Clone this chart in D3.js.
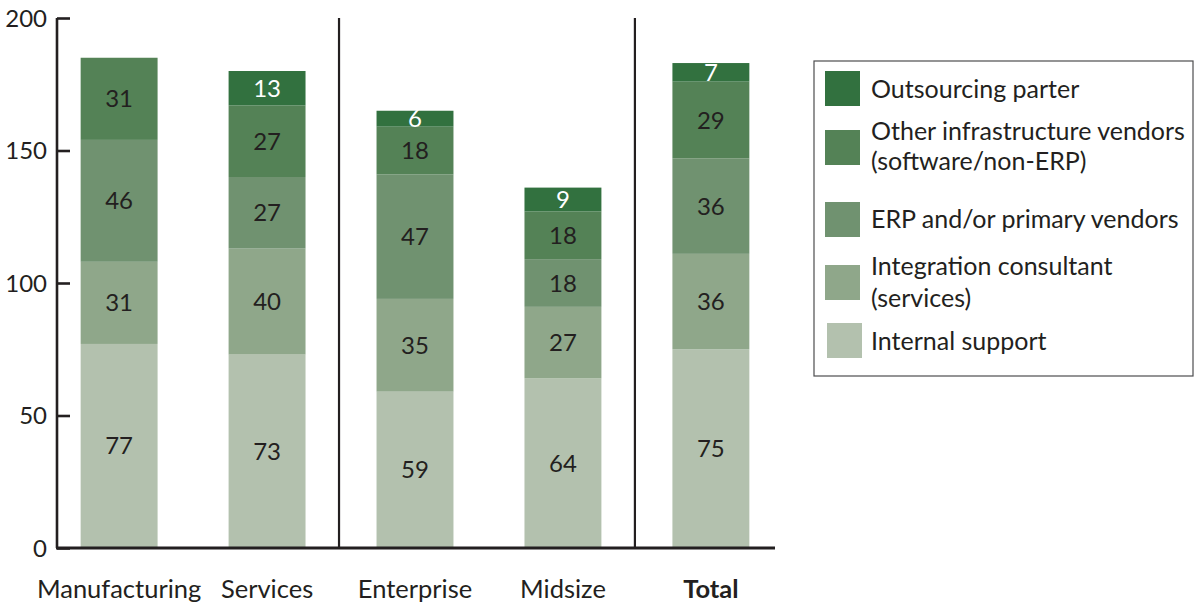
<!DOCTYPE html>
<html>
<head>
<meta charset="utf-8">
<script src="https://cdn.jsdelivr.net/npm/d3@7"></script>
<style>
  html, body { margin: 0; padding: 0; background: #ffffff; }
  svg { display: block; font-family: Lato, "Open Sans", sans-serif; }
</style>
</head>
<body>
<svg id="chart" width="1199" height="606"></svg>
<script>
// Categories along the x axis
const categories = ["Manufacturing", "Services", "Enterprise", "Midsize", "Total"];

// Series values, bottom of the stack first
const internalSupport       = [77, 73, 59, 64, 75];
const integrationConsultant = [31, 40, 35, 27, 36];
const erpVendors            = [46, 27, 47, 18, 36];
const otherInfrastructure   = [31, 27, 18, 18, 29];
const outsourcingPartner    = [0, 13, 6, 9, 7];

const seriesKeys = ["internal", "integration", "erp", "other", "outsourcing"];
const seriesColors = ["#b3c1ae", "#8fa78a", "#709270", "#548256", "#32713f"];

// Legend labels (top entry first), split into lines
const legendLabels = [
  ["Outsourcing parter"],
  ["Other infrastructure vendors", "(software/non-ERP)"],
  ["ERP and/or primary vendors"],
  ["Integration consultant", "(services)"],
  ["Internal support"]
];
const legendKeys = ["outsourcing", "other", "erp", "integration", "internal"];

// Y axis tick labels
const yTicks = [0, 50, 100, 150, 200];

// Separators are drawn after these categories
const groupBreaksAfter = ["Services", "Midsize"];

const rows = categories.map((c, i) => ({
  category: c,
  internal: internalSupport[i],
  integration: integrationConsultant[i],
  erp: erpVendors[i],
  other: otherInfrastructure[i],
  outsourcing: outsourcingPartner[i]
}));

const svg = d3.select("#chart");
const ink = "#231f20";
const fontStack = "Lato, 'Open Sans', sans-serif";

const x = d3.scaleBand()
  .domain(categories)
  .range([55.5, 774.5])
  .paddingInner(0.48)
  .paddingOuter(0.17);

const y = d3.scaleLinear().domain([0, 200]).range([548, 18]);

const color = d3.scaleOrdinal().domain(seriesKeys).range(seriesColors);

const stacked = d3.stack().keys(seriesKeys)(rows);

// Bars
const layers = svg.append("g").selectAll("g")
  .data(stacked)
  .join("g")
  .attr("fill", d => color(d.key));

layers.selectAll("rect")
  .data(d => d.map(p => ({ key: d.key, p })))
  .join("rect")
  .attr("x", d => x(d.p.data.category))
  .attr("width", x.bandwidth())
  .attr("y", d => y(d.p[1]))
  .attr("height", d => y(d.p[0]) - y(d.p[1]));

// Segment value labels
layers.selectAll("text")
  .data(d => d.map(p => ({ key: d.key, p })).filter(e => e.p[1] - e.p[0] > 0))
  .join("text")
  .attr("x", d => x(d.p.data.category) + x.bandwidth() / 2)
  .attr("y", d => (y(d.p[0]) + y(d.p[1])) / 2 - 1)
  .attr("text-anchor", "middle")
  .attr("dominant-baseline", "central")
  .attr("font-size", 24)
  .attr("fill", d => d.key === "outsourcing" ? "#ffffff" : ink)
  .text(d => d.p[1] - d.p[0]);

// Y axis
const yAxis = svg.append("g")
  .attr("transform", "translate(57,0)")
  .call(d3.axisLeft(y).tickValues(yTicks).tickSize(-13));
yAxis.select(".domain").attr("stroke", ink).attr("stroke-width", 2.6)
  .attr("d", `M0,${y(200)}V${y(0)}`);
yAxis.selectAll(".tick line").attr("stroke", ink).attr("stroke-width", 2.6);
yAxis.selectAll(".tick text")
  .attr("fill", ink)
  .attr("font-size", 24)
  .attr("font-family", fontStack)
  .attr("x", -10)
  .attr("dy", "0.35em");

// X axis baseline and category labels
const xAxis = svg.append("g")
  .attr("transform", `translate(0,${y(0)})`)
  .call(d3.axisBottom(x).tickSize(0).tickPadding(32));
xAxis.select(".domain").attr("stroke", ink).attr("stroke-width", 2.8)
  .attr("d", `M56,0H775`);
xAxis.selectAll(".tick text")
  .attr("fill", ink)
  .attr("font-size", 25.5)
  .attr("font-family", fontStack)
  .attr("font-weight", d => d === "Total" ? "bold" : "normal");

// Group separators, midway between neighbouring bars
const breakX = d => {
  const i = categories.indexOf(d);
  return (x(categories[i]) + x.bandwidth() + x(categories[i + 1])) / 2 - 2;
};
svg.append("g").selectAll("line")
  .data(groupBreaksAfter)
  .join("line")
  .attr("x1", breakX)
  .attr("x2", breakX)
  .attr("y1", y(200))
  .attr("y2", y(0))
  .attr("stroke", ink)
  .attr("stroke-width", 2.2);

// Legend
const legend = svg.append("g");
legend.append("rect")
  .attr("x", 814).attr("y", 61)
  .attr("width", 379).attr("height", 315)
  .attr("fill", "none")
  .attr("stroke", "#4d4d4f")
  .attr("stroke-width", 1.2);

const swatchTops = [71, 130, 202, 265, 323];
const lineCenters = [[88], [130, 160], [218], [265, 297], [340]];

const items = legend.selectAll("g.item")
  .data(legendKeys)
  .join("g")
  .attr("class", "item");

items.append("rect")
  .attr("x", (d, i) => i === 4 ? 827 : 825)
  .attr("y", (d, i) => swatchTops[i])
  .attr("width", 35)
  .attr("height", 35)
  .attr("fill", d => color(d));

items.each(function (d, i) {
  d3.select(this).selectAll("text")
    .data(legendLabels[i])
    .join("text")
    .attr("x", 871)
    .attr("y", (t, j) => lineCenters[i][j])
    .attr("dominant-baseline", "central")
    .attr("font-size", 25)
    .attr("fill", ink)
    .text(t => t);
});
</script>
</body>
</html>
